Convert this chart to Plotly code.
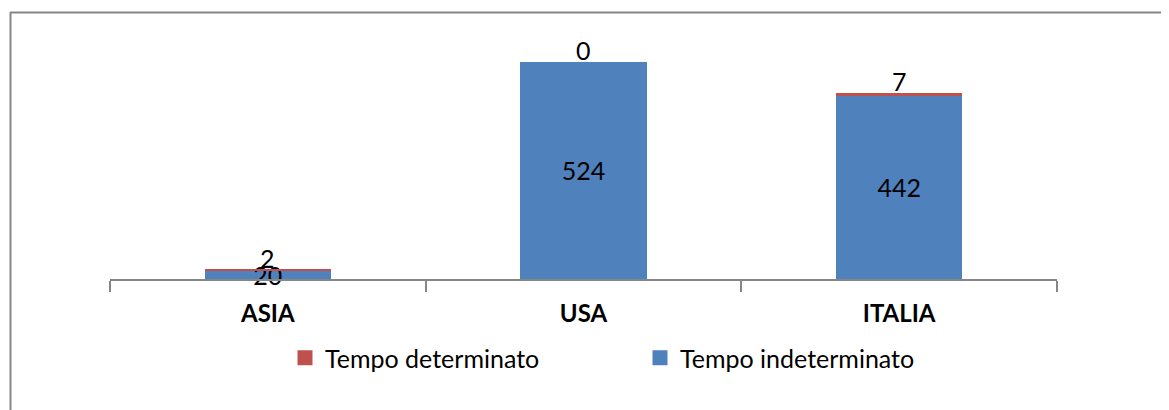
import plotly.graph_objects as go

categories = ["ASIA", "USA", "ITALIA"]
indeterminato = [20, 524, 442]
determinato = [2, 0, 7]

BLUE = "#4F81BD"
RED = "#C0504D"
GRID = "#868686"
FONT = "Lato"

fig = go.Figure()
fig.add_trace(go.Bar(
    x=categories, y=indeterminato, name="Tempo indeterminato",
    legendgroup="ind", showlegend=False,
    marker=dict(color=BLUE, line=dict(width=0)),
    text=[str(v) for v in indeterminato], textposition="inside",
    insidetextanchor="middle", textangle=0, constraintext="none",
    cliponaxis=False,
    textfont=dict(family=FONT, size=25, color="black"),
    width=0.4, hoverinfo="x+y+name",
))
fig.add_trace(go.Bar(
    x=categories, y=determinato, name="Tempo determinato",
    legendgroup="det", showlegend=False,
    marker=dict(color=RED, line=dict(width=0)),
    width=0.4, hoverinfo="x+y+name",
))

# labels of the top segment, placed just above each stack
for cat, a, b in zip(categories, indeterminato, determinato):
    fig.add_annotation(x=cat, y=a + b, text=str(b), showarrow=False,
                       yanchor="bottom", yshift=-5,
                       font=dict(family=FONT, size=25, color="black"))

# legend entries with larger square swatches
fig.add_trace(go.Scatter(x=[None], y=[None], mode="markers", name="Tempo indeterminato",
                         legendgroup="ind",
                         marker=dict(symbol="square", size=15, color=BLUE)))
fig.add_trace(go.Scatter(x=[None], y=[None], mode="markers", name="Tempo determinato",
                         legendgroup="det",
                         marker=dict(symbol="square", size=15, color=RED)))

# page body has an 8px margin; convert screen pixels to paper coords
def px_x(p):
    return (p - 110) / 947.0

def px_y(p):
    return (279 - p) / 249.0

shapes = [
    dict(type="line", xref="paper", yref="paper",
         x0=px_x(10), x1=px_x(1180), y0=px_y(12.5), y1=px_y(12.5),
         line=dict(color=GRID, width=2)),
    dict(type="line", xref="paper", yref="paper",
         x0=px_x(10.5), x1=px_x(10.5), y0=px_y(12), y1=px_y(420),
         line=dict(color=GRID, width=2)),
]

fig.update_layout(
    width=1161, height=402,
    margin=dict(l=102, r=112, t=22, b=131),
    paper_bgcolor="white", plot_bgcolor="white",
    barmode="stack",
    font=dict(family=FONT, size=25, color="black"),
    uniformtext=dict(minsize=25, mode="show"),
    showlegend=True,
    legend=dict(orientation="h", x=px_x(285), xanchor="left", y=px_y(358),
                yanchor="middle", traceorder="reversed",
                font=dict(family=FONT, size=25, color="black"),
                entrywidth=310),
    shapes=shapes,
    xaxis=dict(
        showline=True, linecolor=GRID, linewidth=1.5,
        ticks="outside", tickson="boundaries", ticklen=11, tickcolor=GRID, tickwidth=1.5,
        tickfont=dict(family=FONT, size=24, color="black", weight="bold"),
        ticklabelstandoff=12,
        showgrid=False, zeroline=False,
    ),
    yaxis=dict(range=[0, 600], visible=False, showgrid=False, zeroline=False),
)

fig.write_html("out.html")
